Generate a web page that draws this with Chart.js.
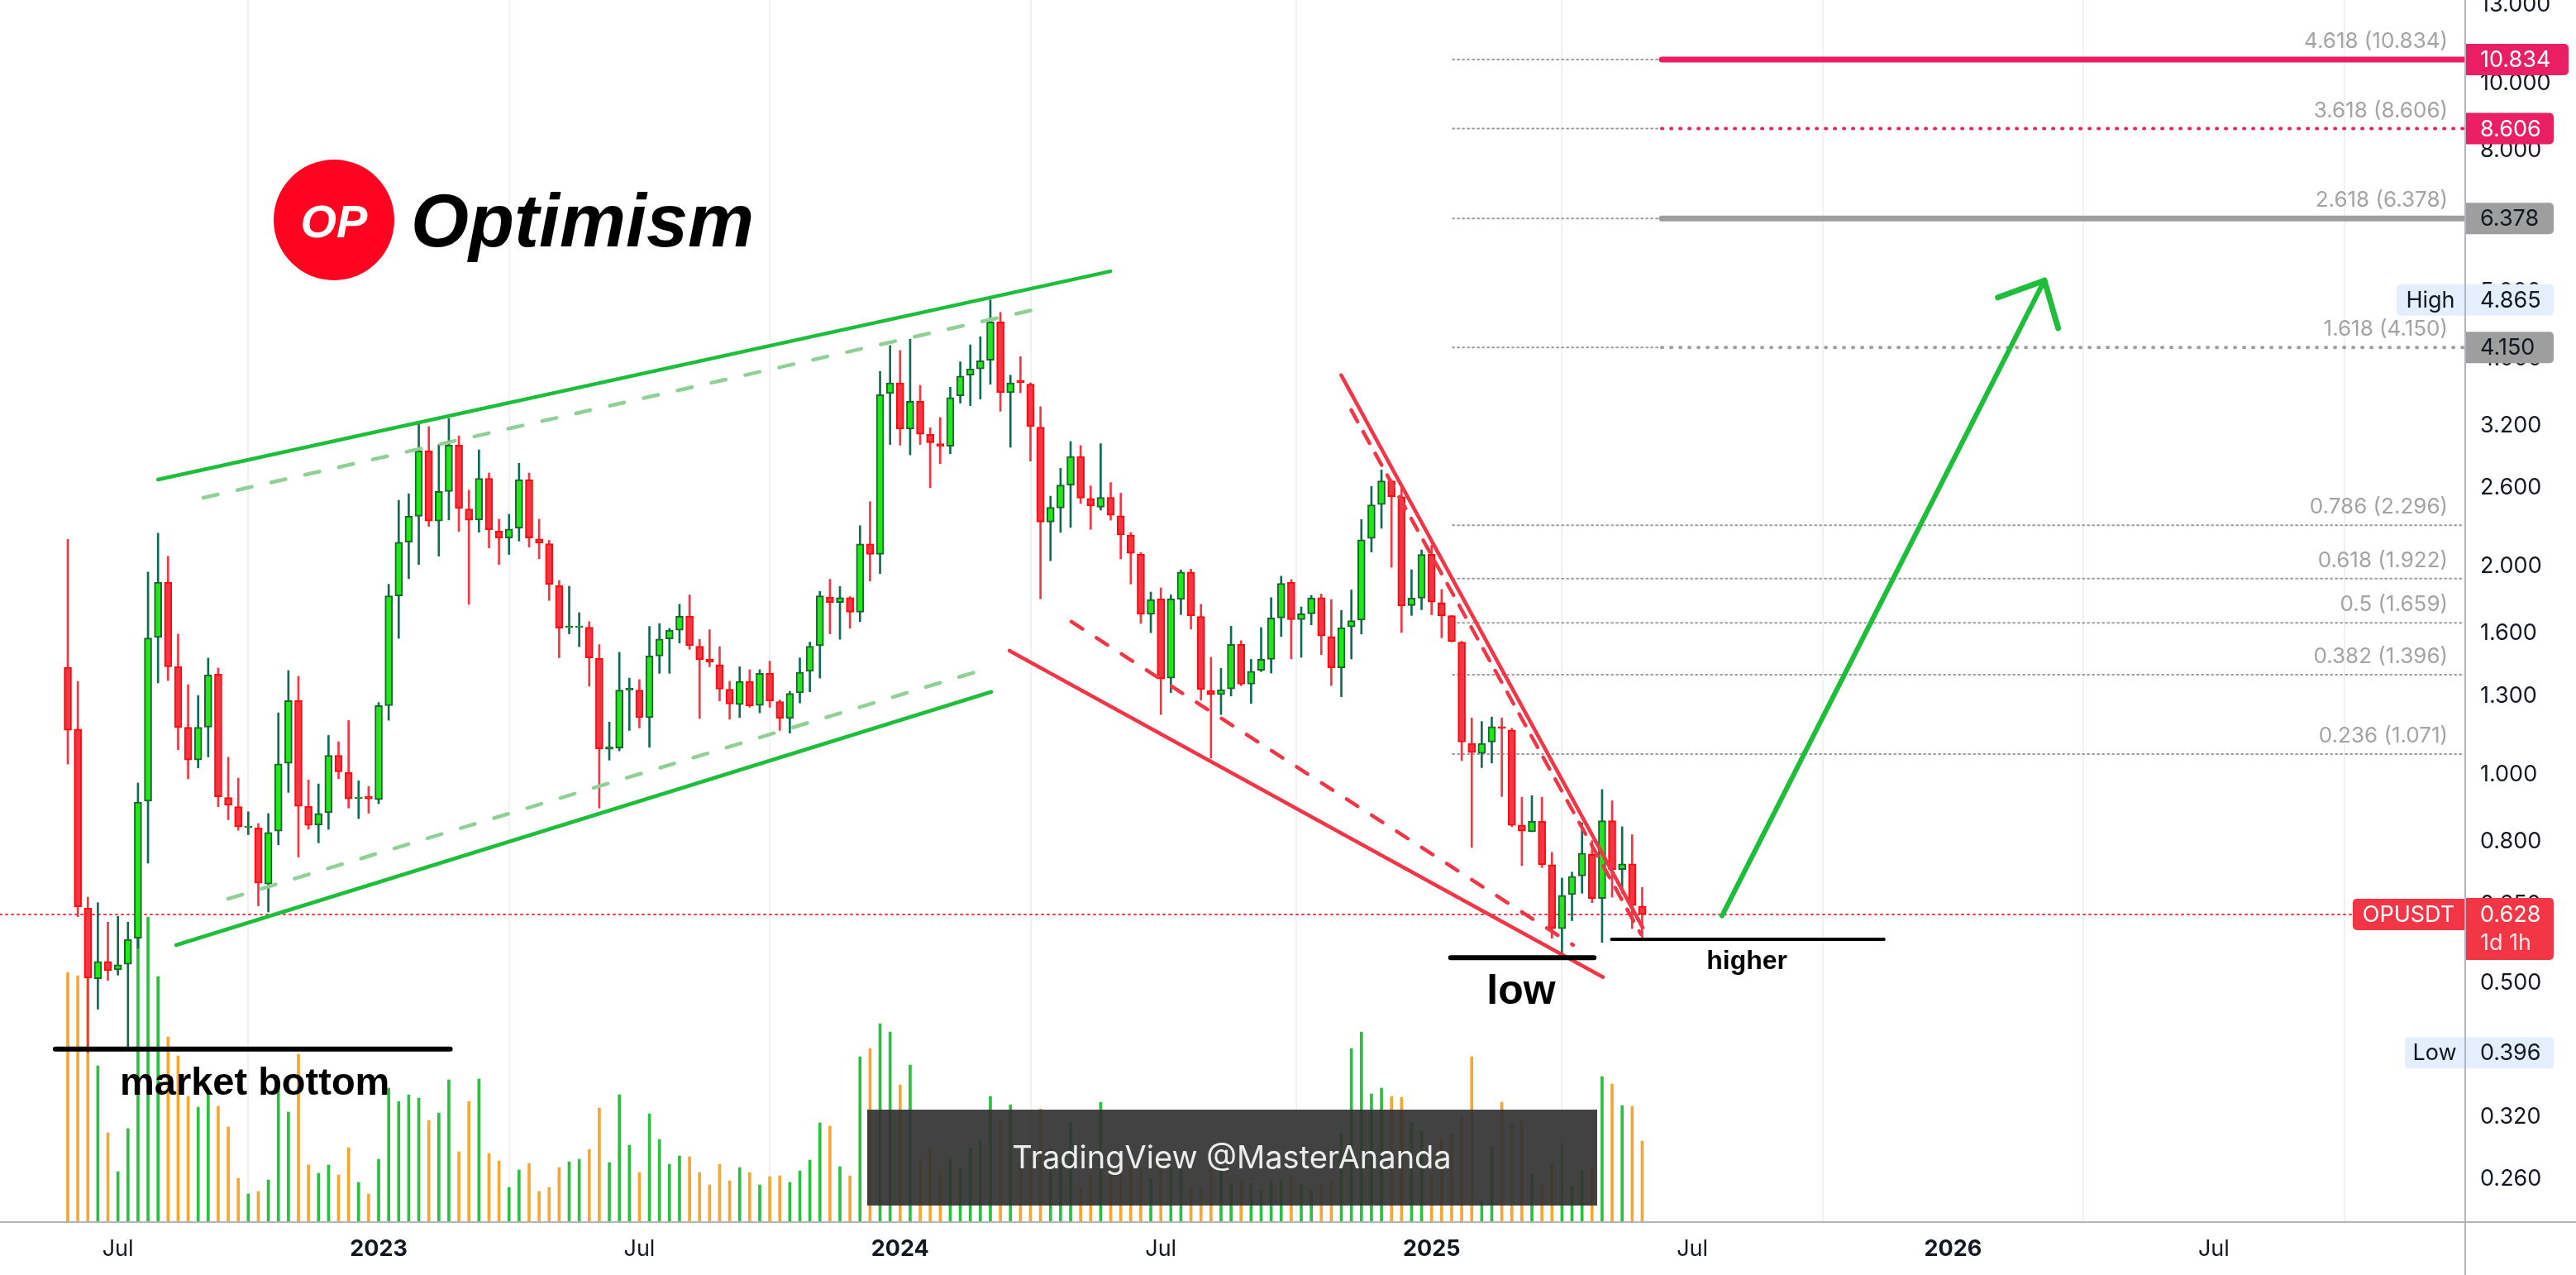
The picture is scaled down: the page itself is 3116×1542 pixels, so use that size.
<!DOCTYPE html>
<html>
<head>
<meta charset="utf-8">
<title>OPUSDT weekly</title>
<script src="https://cdn.jsdelivr.net/npm/chart.js@4.4.1/dist/chart.umd.min.js"></script>
<style>
  html, body { margin: 0; padding: 0; background: #ffffff; }
  #chart-box { position: relative; width: 3116px; height: 1542px; }
</style>
</head>
<body>
<div id="chart-box"><canvas id="my-chart"></canvas></div>
<script>
'use strict';
// ***** DATA *****
// weekly candles, week 0 = 2022-05-30
let weekOpen = [1.43, 1.164, 0.641, 0.507, 0.537, 0.522, 0.532, 0.580, 0.916, 1.580,
  1.90, 1.433, 1.171, 1.05, 1.172, 1.398, 0.927, 0.899, 0.839, 0.838,
  0.695, 0.829, 1.039, 1.28, 0.900, 0.846, 0.881, 1.067, 1.008, 0.924,
  0.931, 0.920, 1.259, 1.815, 2.170, 2.366, 2.941, 2.329, 2.570, 2.998,
  2.424, 2.337, 2.683, 2.252, 2.20, 2.274, 2.673, 2.194, 2.159, 1.879,
  1.632, 1.634, 1.635, 1.473, 1.089, 1.093, 1.326, 1.326, 1.21, 1.485,
  1.572, 1.619, 1.695, 1.534, 1.469, 1.443, 1.33, 1.263, 1.365, 1.26,
  1.402, 1.276, 1.206, 1.314, 1.411, 1.537, 1.808, 1.775, 1.804, 1.718,
  2.157, 2.084, 3.562, 3.69, 3.164, 3.47, 3.107, 3.013, 2.987, 3.535,
  3.786, 3.866, 3.978, 4.52, 3.57, 3.72, 3.673, 3.184, 2.321, 2.432,
  2.625, 2.888, 2.511, 2.438, 2.52, 2.37, 2.223, 2.084, 1.707, 1.796,
  1.38, 1.793, 1.965, 1.694, 1.324, 1.306, 1.331, 1.544, 1.352, 1.416,
  1.469, 1.686, 1.898, 1.677, 1.709, 1.804, 1.585, 1.428, 1.636, 1.674,
  2.198, 2.461, 2.661, 2.525, 1.757, 1.801, 2.084, 1.774, 1.699, 1.556,
  1.11, 1.074, 1.115, 1.174, 1.161, 0.846, 0.827, 0.856, 0.741, 0.599,
  0.671, 0.714, 0.768, 0.662, 0.858, 0.729, 0.743, 0.645];
let weekHigh = [2.19, 1.365, 0.665, 0.653, 0.612, 0.624, 0.612, 0.973, 1.964, 2.236,
  2.07, 1.597, 1.35, 1.302, 1.475, 1.427, 1.06, 0.989, 0.884, 0.850,
  0.879, 1.229, 1.415, 1.388, 0.983, 0.970, 1.14, 1.116, 1.198, 0.980,
  0.962, 1.272, 1.886, 2.495, 2.55, 3.227, 3.189, 3.003, 3.278, 3.093,
  2.581, 2.952, 2.733, 2.343, 2.381, 2.822, 2.733, 2.343, 2.184, 1.91,
  1.874, 1.716, 1.665, 1.543, 1.192, 1.504, 1.38, 1.373, 1.639, 1.655,
  1.629, 1.765, 1.82, 1.57, 1.621, 1.532, 1.365, 1.433, 1.419, 1.419,
  1.46, 1.283, 1.32, 1.476, 1.556, 1.842, 1.918, 1.872, 1.81, 2.293,
  2.484, 3.833, 4.178, 4.111, 4.266, 3.66, 3.177, 3.287, 3.636, 3.958,
  4.188, 4.303, 4.865, 4.667, 3.786, 4.027, 3.69, 3.407, 2.53, 2.775,
  3.035, 2.994, 2.618, 3.013, 2.647, 2.555, 2.242, 2.096, 1.838, 1.864,
  1.821, 1.978, 1.984, 1.764, 1.479, 1.425, 1.64, 1.563, 1.469, 1.633,
  1.804, 1.938, 1.916, 1.749, 1.818, 1.826, 1.793, 1.729, 1.851, 2.34,
  2.613, 2.761, 2.666, 2.601, 1.98, 2.115, 2.149, 1.854, 1.70, 1.56,
  1.208, 1.194, 1.212, 1.208, 1.168, 0.928, 0.933, 0.928, 0.772, 0.709,
  0.723, 0.852, 0.803, 0.952, 0.917, 0.841, 0.819, 0.687];
let weekLow = [1.036, 0.623, 0.396, 0.458, 0.504, 0.513, 0.404, 0.561, 0.745, 1.358,
  1.369, 1.087, 0.986, 1.023, 1.061, 0.899, 0.861, 0.831, 0.819, 0.646,
  0.633, 0.792, 0.943, 0.760, 0.834, 0.797, 0.834, 0.987, 0.895, 0.864,
  0.880, 0.908, 1.199, 1.575, 1.922, 2.015, 2.287, 2.071, 2.337, 2.249,
  1.764, 2.243, 2.129, 2.015, 2.083, 2.178, 2.135, 2.053, 1.787, 1.477,
  1.599, 1.532, 1.343, 0.895, 1.05, 1.083, 1.159, 1.169, 1.096, 1.402,
  1.402, 1.551, 1.519, 1.206, 1.433, 1.279, 1.203, 1.21, 1.252, 1.229,
  1.252, 1.159, 1.149, 1.27, 1.318, 1.38, 1.599, 1.57, 1.629, 1.665,
  1.906, 1.954, 3.005, 2.998, 2.903, 3.005, 2.602, 2.819, 2.914, 3.449,
  3.42, 3.496, 3.673, 3.357, 2.977, 3.57, 2.843, 1.797, 2.04, 2.242,
  2.279, 2.468, 2.265, 2.415, 2.335, 2.052, 1.888, 1.655, 1.605, 1.222,
  1.315, 1.705, 1.625, 1.282, 1.057, 1.222, 1.30, 1.345, 1.268, 1.41,
  1.403, 1.585, 1.471, 1.479, 1.648, 1.492, 1.346, 1.297, 1.471, 1.598,
  2.10, 2.273, 1.996, 1.606, 1.70, 1.733, 1.704, 1.578, 1.556, 1.048,
  0.785, 1.024, 1.04, 0.93, 0.841, 0.739, 0.827, 0.734, 0.58, 0.546,
  0.615, 0.674, 0.653, 0.572, 0.665, 0.674, 0.599, 0.58];
let weekClose = [1.16, 0.644, 0.508, 0.537, 0.521, 0.531, 0.578, 0.913, 1.577, 1.900,
  1.433, 1.171, 1.05, 1.171, 1.394, 0.929, 0.904, 0.841, 0.843, 0.697,
  0.825, 1.037, 1.28, 0.900, 0.845, 0.879, 1.067, 1.01, 0.923, 0.928,
  0.923, 1.259, 1.815, 2.170, 2.366, 2.941, 2.329, 2.570, 2.998, 2.428,
  2.335, 2.683, 2.26, 2.20, 2.268, 2.673, 2.20, 2.164, 1.886, 1.63,
  1.642, 1.642, 1.476, 1.09, 1.097, 1.326, 1.334, 1.21, 1.485, 1.572,
  1.619, 1.695, 1.537, 1.467, 1.455, 1.33, 1.266, 1.365, 1.258, 1.402,
  1.279, 1.206, 1.311, 1.407, 1.534, 1.815, 1.775, 1.804, 1.718, 2.157,
  2.084, 3.548, 3.69, 3.164, 3.47, 3.11, 3.023, 2.987, 3.513, 3.773,
  3.866, 3.972, 4.52, 3.57, 3.69, 3.69, 3.189, 2.321, 2.438, 2.625,
  2.888, 2.514, 2.448, 2.52, 2.373, 2.223, 2.091, 1.707, 1.793, 1.376,
  1.796, 1.965, 1.697, 1.328, 1.306, 1.328, 1.544, 1.352, 1.412, 1.469,
  1.686, 1.891, 1.677, 1.709, 1.801, 1.588, 1.428, 1.633, 1.671, 2.188,
  2.457, 2.661, 2.525, 1.755, 1.801, 2.083, 1.778, 1.699, 1.558, 1.115,
  1.077, 1.11, 1.174, 1.168, 0.845, 0.829, 0.856, 0.741, 0.599, 0.669,
  0.713, 0.77, 0.662, 0.858, 0.729, 0.743, 0.647, 0.628];
// volume, millions OP (relative reading)
let weekVolume = [30.2, 29.8, 30.3, 18.9, 10.8, 6.1, 11.3, 36.5, 36.9, 29.7,
  22.4, 20.1, 15.2, 13.9, 15.8, 14.0, 11.5, 5.3, 3.4, 3.7,
  5.1, 16.3, 13.3, 20.3, 6.9, 5.9, 6.9, 5.7, 9.0, 4.8,
  3.4, 7.6, 16.2, 14.6, 15.4, 15.0, 12.3, 13.2, 17.2, 8.5,
  14.6, 17.3, 8.3, 7.4, 4.2, 6.3, 7.1, 3.7, 4.2, 6.6,
  7.3, 7.6, 8.8, 13.8, 7.2, 15.4, 9.3, 6.0, 13.1, 10.0,
  7.0, 8.0, 7.9, 6.0, 4.5, 7.0, 5.0, 6.6, 6.0, 4.5,
  5.5, 5.6, 4.8, 6.2, 7.5, 12.0, 11.6, 6.7, 5.6, 20.0,
  21.0, 24.0, 23.0, 16.6, 19.0, 7.6, 8.8, 5.8, 7.6, 6.5,
  9.0, 9.9, 15.2, 12.4, 14.2, 7.1, 7.8, 13.7, 8.9, 7.1,
  12.1, 4.1, 5.8, 14.5, 6.8, 7.8, 6.8, 6.5, 5.2, 7.5,
  6.5, 6.3, 4.1, 4.3, 7.1, 6.8, 4.7, 4.8, 4.7, 3.8,
  5.0, 5.1, 5.7, 4.5, 3.8, 4.5, 5.1, 10.7, 21.0, 23.0,
  15.5, 16.2, 15.2, 15.1, 12.0, 11.0, 5.8, 10.1, 10.7, 12.8,
  20.0, 2.5, 9.1, 14.5, 11.9, 12.2, 5.9, 4.7, 7.1, 9.5,
  4.4, 6.2, 6.6, 17.6, 16.7, 14.1, 14.0, 9.8];

let xTickWeeks = [5, 31, 57, 83, 109, 136, 162, 188, 214];
let xTickLabels = ['Jul', '2023', 'Jul', '2024', 'Jul', '2025', 'Jul', '2026', 'Jul'];
let yTickValues = [0.26, 0.32, 0.40, 0.50, 0.65, 0.80, 1.0, 1.3, 1.6, 2.0, 2.6, 3.2, 4.0, 5.0, 6.5, 8.0, 10.0, 13.0];

// fibonacci extension levels
let fibRatios = ['4.618', '3.618', '2.618', '1.618', '0.786', '0.618', '0.5', '0.382', '0.236'];
let fibPrices = [10.834, 8.606, 6.378, 4.150, 2.296, 1.922, 1.659, 1.396, 1.071];
let highPrice = 4.865;
let lowPrice = 0.396;
let symbolName = 'OPUSDT';
let barCountdown = '1d 1h';

// ***** DRAWINGS (week, price) *****
let upperChannel = [[8.99, 2.673], [103.96, 5.35]];
let upperChannelInner = [[13.52, 2.516], [96.13, 4.70]];
let lowerChannel = [[10.80, 0.567], [92.09, 1.318]];
let lowerChannelInner = [[15.99, 0.6615], [90.44, 1.407]];
let fallingLower = [[93.90, 1.512], [153.09, 0.5097]];
let fallingLowerInner = [[100.08, 1.665], [150.12, 0.567]];
let fallingUpper = [[126.98, 3.786], [157.05, 0.601]];
let fallingUpperInner = [[127.98, 3.37], [156.87, 0.588]];
let targetArrow = [[164.96, 0.625], [197.11, 5.19]];
let bottomLine = [[-1.24, 0.401], [38.14, 0.401]];
let lowLine = [[137.9, 0.5436], [152.2, 0.5436]];
let higherLine = [[153.96, 0.578], [181.1, 0.578]];
let fibStartWeek = 138.1;
let fibHighlightWeek = 158.95;

// ***** STYLE *****
const FONT = '"Inter", "Liberation Sans", sans-serif';
const LOGO_FONT = '"Liberation Sans", Arial, sans-serif';
const UP_FILL = '#20e818';
const UP_BORDER = '#1d6530';
const UP_WICK = '#0e6b54';
const DOWN_FILL = '#f23645';
const DOWN_BORDER = '#ff0a0a';
const DOWN_WICK = '#f23645';
const VOL_UP = '#2cbf40';
const VOL_DOWN = '#f8a632';
const LINE_GREEN = '#1ebe3a';
const LINE_GREEN_LIGHT = '#8fd095';
const LINE_RED = '#f23645';
const FIB_GRAY = '#9e9e9e';
const FIB_PINK = '#e91e63';

// ***** DATASETS *****
let weeks = weekOpen.map((v, i) => i);
let isUp = weeks.map(i => weekClose[i] >= weekOpen[i]);

let bodyDataset = {
  label: 'body',
  data: weeks.map(i => ({ x: i, y: [weekOpen[i], weekClose[i]] })),
  backgroundColor: isUp.map(u => u ? UP_FILL : DOWN_FILL),
  borderColor: isUp.map(u => u ? UP_BORDER : DOWN_BORDER),
  borderWidth: 2,
  borderSkipped: false,
  barThickness: 9,
  grouped: false,
  order: 0,
  yAxisID: 'y'
};

let wickDataset = {
  label: 'wick',
  data: weeks.map(i => ({ x: i, y: [weekLow[i], weekHigh[i]] })),
  backgroundColor: isUp.map(u => u ? UP_WICK : DOWN_WICK),
  borderWidth: 0,
  barThickness: 2,
  grouped: false,
  order: 1,
  yAxisID: 'y'
};

let volumeDataset = {
  label: 'volume',
  data: weeks.map(i => ({ x: i, y: weekVolume[i] })),
  backgroundColor: isUp.map(u => u ? VOL_UP : VOL_DOWN),
  borderWidth: 0,
  barThickness: 3,
  grouped: false,
  order: 2,
  yAxisID: 'yv'
};

// ***** HELPERS *****
function px(chart, w) { return chart.scales.x.getPixelForValue(w); }
function py(chart, p) { return chart.scales.y.getPixelForValue(p); }

function strokeSegment(ctx, x1, y1, x2, y2, color, width, dash) {
  ctx.save();
  ctx.strokeStyle = color;
  ctx.lineWidth = width;
  ctx.lineCap = 'round';
  ctx.setLineDash(dash || []);
  ctx.beginPath();
  ctx.moveTo(x1, y1);
  ctx.lineTo(x2, y2);
  ctx.stroke();
  ctx.restore();
}

function drawDrawing(chart, pts, color, width, dash) {
  strokeSegment(chart.ctx, px(chart, pts[0][0]), py(chart, pts[0][1]),
    px(chart, pts[1][0]), py(chart, pts[1][1]), color, width, dash);
}

function roundBox(ctx, x, y, w, h, r, color) {
  ctx.save();
  ctx.fillStyle = color;
  ctx.beginPath();
  ctx.roundRect(x, y, w, h, r);
  ctx.fill();
  ctx.restore();
}

// ***** OVERLAY DRAWING *****
function drawFibLevels(chart) {
  let ctx = chart.ctx;
  let right = chart.chartArea.right;
  let x0 = px(chart, fibStartWeek);
  let x1 = px(chart, fibHighlightWeek);
  fibPrices.forEach((price, i) => {
    let y = py(chart, price);
    if (i < 4) {
      strokeSegment(ctx, x0, y, x1, y, FIB_GRAY, 2, [2, 4]);
      let color = (i < 2) ? FIB_PINK : FIB_GRAY;
      let dotted = (i % 2 === 1);
      strokeSegment(ctx, x1, y, right, y, color, dotted ? 4 : 7, dotted ? [1, 10] : []);
    } else {
      strokeSegment(ctx, x0, y, right, y, FIB_GRAY, 2, [2, 4]);
    }
    ctx.save();
    ctx.font = '26px ' + FONT;
    ctx.fillStyle = '#a3a3a3';
    ctx.textAlign = 'right';
    ctx.textBaseline = 'alphabetic';
    ctx.fillText(`${fibRatios[i]} (${price.toFixed(3)})`, right - 20, y - 14);
    ctx.restore();
  });
}

function drawPriceLine(chart) {
  let y = py(chart, weekClose[weekClose.length - 1]);
  strokeSegment(chart.ctx, chart.chartArea.left, y, chart.chartArea.right, y, LINE_RED, 2, [2, 5]);
}

function drawTrendLines(chart) {
  drawDrawing(chart, upperChannel, LINE_GREEN, 4.5);
  drawDrawing(chart, lowerChannel, LINE_GREEN, 4.5);
  drawDrawing(chart, upperChannelInner, LINE_GREEN_LIGHT, 4.5, [18, 24]);
  drawDrawing(chart, lowerChannelInner, LINE_GREEN_LIGHT, 4.5, [18, 24]);
  drawDrawing(chart, fallingLower, LINE_RED, 4.5);
  drawDrawing(chart, fallingUpper, LINE_RED, 4.5);
  drawDrawing(chart, fallingLowerInner, LINE_RED, 4.5, [16, 20]);
  drawDrawing(chart, fallingUpperInner, LINE_RED, 4.5, [16, 14]);
  drawDrawing(chart, bottomLine, '#000000', 6);
  drawDrawing(chart, lowLine, '#000000', 6);
  drawDrawing(chart, higherLine, '#000000', 4);
}

function drawArrow(chart) {
  let ctx = chart.ctx;
  let sx = px(chart, targetArrow[0][0]);
  let sy = py(chart, targetArrow[0][1]);
  let tx = px(chart, targetArrow[1][0]);
  let ty = py(chart, targetArrow[1][1]);
  strokeSegment(ctx, sx, sy, tx, ty, LINE_GREEN, 6);
  let back = Math.atan2(sy - ty, sx - tx);
  [-0.75, 0.75].forEach(a => {
    strokeSegment(ctx, tx, ty, tx + 60 * Math.cos(back + a), ty + 60 * Math.sin(back + a), LINE_GREEN, 7);
  });
}

function drawNotes(chart) {
  let ctx = chart.ctx;
  ctx.save();
  ctx.fillStyle = '#000000';
  ctx.textBaseline = 'alphabetic';
  ctx.font = 'bold 47px ' + LOGO_FONT;
  ctx.textAlign = 'left';
  ctx.fillText('market bottom', px(chart, 5.19), py(chart, 0.3444));
  ctx.font = 'bold 50px ' + LOGO_FONT;
  ctx.textAlign = 'center';
  ctx.fillText('low', px(chart, 144.93), py(chart, 0.4664));
  ctx.font = 'bold 32px ' + LOGO_FONT;
  ctx.fillText('higher', px(chart, 167.44), py(chart, 0.5235));
  ctx.restore();
}

function drawWatermark(chart) {
  let ctx = chart.ctx;
  ctx.save();
  ctx.fillStyle = 'rgba(50,50,50,0.92)';
  ctx.fillRect(1049, 1342, 883, 116);
  ctx.fillStyle = '#ececec';
  ctx.font = '38px ' + FONT;
  ctx.textAlign = 'center';
  ctx.textBaseline = 'middle';
  ctx.fillText('TradingView @MasterAnanda', 1490, 1402);
  ctx.restore();
}

function drawAxisFrame(chart) {
  let ctx = chart.ctx;
  let a = chart.chartArea;
  ctx.save();
  ctx.fillStyle = '#b2b5be';
  ctx.fillRect(a.right, 0, 2, chart.height);
  ctx.fillRect(0, a.bottom - 1, chart.width, 2);
  ctx.restore();
}

function priceTag(chart, price, text, bg, fg, width) {
  let ctx = chart.ctx;
  let y = py(chart, price);
  let x = chart.chartArea.right + 2;
  roundBox(ctx, x, y - 19, width || 106, 38, [0, 5, 5, 0], bg);
  ctx.save();
  ctx.fillStyle = fg;
  ctx.font = '27px ' + FONT;
  ctx.textAlign = 'left';
  ctx.textBaseline = 'middle';
  ctx.fillText(text, x + 17, y + 1);
  ctx.restore();
}

function sideTag(chart, price, text, bg, fg, width) {
  let ctx = chart.ctx;
  let y = py(chart, price);
  let x = chart.chartArea.right - width;
  roundBox(ctx, x, y - 19, width, 38, [5, 0, 0, 5], bg);
  ctx.save();
  ctx.fillStyle = fg;
  ctx.font = '27px ' + FONT;
  ctx.textAlign = 'center';
  ctx.textBaseline = 'middle';
  ctx.fillText(text, x + width / 2, y + 1);
  ctx.restore();
}

function drawPriceTags(chart) {
  let ctx = chart.ctx;
  priceTag(chart, fibPrices[0], fibPrices[0].toFixed(3), FIB_PINK, '#ffffff', 124);
  priceTag(chart, fibPrices[1], fibPrices[1].toFixed(3), FIB_PINK, '#ffffff');
  priceTag(chart, fibPrices[2], fibPrices[2].toFixed(3), FIB_GRAY, '#131722');
  priceTag(chart, highPrice, highPrice.toFixed(3), '#e3effd', '#131722');
  sideTag(chart, highPrice, 'High', '#e3effd', '#131722', 82);
  priceTag(chart, fibPrices[3], fibPrices[3].toFixed(3), FIB_GRAY, '#131722');
  priceTag(chart, lowPrice, lowPrice.toFixed(3), '#e3effd', '#131722');
  sideTag(chart, lowPrice, 'Low', '#e3effd', '#131722', 72);

  // last price with countdown
  let last = weekClose[weekClose.length - 1];
  let y = py(chart, last);
  let x = chart.chartArea.right + 2;
  roundBox(ctx, x, y - 20, 106, 75, [0, 5, 5, 0], LINE_RED);
  ctx.save();
  ctx.fillStyle = '#ffffff';
  ctx.font = '27px ' + FONT;
  ctx.textAlign = 'left';
  ctx.textBaseline = 'middle';
  ctx.fillText(last.toFixed(3), x + 17, y + 1);
  ctx.fillStyle = '#ffe3e5';
  ctx.fillText(barCountdown, x + 17, y + 35);
  ctx.restore();
  sideTag(chart, last, symbolName, LINE_RED, '#ffffff', 135);
}

function drawLogo(chart) {
  let ctx = chart.ctx;
  ctx.save();
  ctx.fillStyle = '#ff0420';
  ctx.beginPath();
  ctx.arc(404, 266, 73, 0, Math.PI * 2);
  ctx.fill();
  ctx.fillStyle = '#ffffff';
  ctx.font = 'italic bold 56px ' + LOGO_FONT;
  ctx.textAlign = 'center';
  ctx.textBaseline = 'alphabetic';
  ctx.fillText('OP', 404, 287);
  ctx.fillStyle = '#000000';
  ctx.font = 'italic bold 90px ' + LOGO_FONT;
  ctx.textAlign = 'left';
  ctx.fillText('Optimism', 497, 298);
  ctx.restore();
}

let overlayPlugin = {
  id: 'overlay',
  beforeDatasetsDraw(chart) {
    drawFibLevels(chart);
    drawPriceLine(chart);
  },
  afterDatasetsDraw(chart) {
    drawTrendLines(chart);
    drawArrow(chart);
    drawNotes(chart);
    drawWatermark(chart);
  },
  afterDraw(chart) {
    drawAxisFrame(chart);
    drawPriceTags(chart);
    drawLogo(chart);
  }
};

// ***** CHART *****
let ctx = document.getElementById('my-chart');
let volumeMax = 147.8;

let chartConfig = {
  type: 'bar',
  data: { datasets: [bodyDataset, wickDataset, volumeDataset] },
  options: {
    responsive: true,
    maintainAspectRatio: false,
    animation: false,
    devicePixelRatio: 1,
    layout: { padding: 0 },
    plugins: {
      legend: { display: false },
      tooltip: { enabled: false }
    },
    scales: {
      x: {
        type: 'linear',
        min: -6.76,
        max: 238.99,
        offset: false,
        grid: { color: '#f1f2f6', lineWidth: 2, drawTicks: false },
        border: { display: false },
        ticks: {
          autoSkip: false,
          maxRotation: 0,
          padding: 17,
          color: '#131722',
          font: (c) => ({
            family: FONT,
            size: 27,
            weight: (c.tick && xTickLabels[xTickWeeks.indexOf(c.tick.value)] !== 'Jul') ? 'bold' : 'normal'
          }),
          callback: (value) => {
            let k = xTickWeeks.indexOf(value);
            return k >= 0 ? xTickLabels[k] : '';
          }
        },
        afterBuildTicks: (scale) => { scale.ticks = xTickWeeks.map(v => ({ value: v })); },
        afterFit: (scale) => { scale.height = 64; scale.paddingLeft = 0; scale.paddingRight = 0; }
      },
      y: {
        type: 'logarithmic',
        position: 'right',
        min: 0.22533,
        max: 13.21,
        grid: { display: false, drawTicks: false },
        border: { display: false },
        ticks: {
          autoSkip: false,
          padding: 19,
          color: '#131722',
          font: { family: FONT, size: 27 },
          callback: (value) => Number(value).toFixed(3)
        },
        afterBuildTicks: (scale) => { scale.ticks = yTickValues.map(v => ({ value: v })); },
        afterFit: (scale) => { scale.width = 135; scale.paddingTop = 0; scale.paddingBottom = 0; }
      },
      yv: {
        type: 'linear',
        display: false,
        min: 0,
        max: volumeMax
      }
    }
  },
  plugins: [overlayPlugin]
};

new Chart(ctx, chartConfig);
</script>
</body>
</html>
